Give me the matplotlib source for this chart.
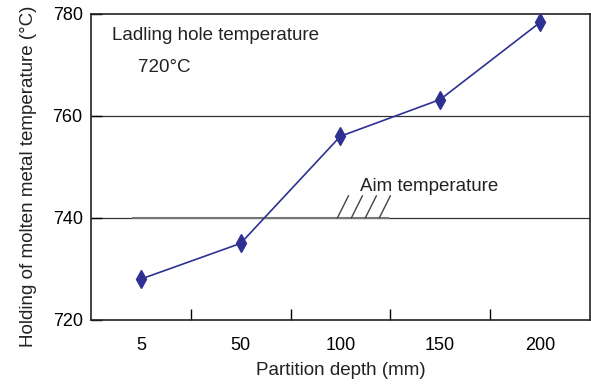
import numpy as np
import matplotlib.pyplot as plt

plt.rcParams['font.family'] = ['Liberation Sans', 'DejaVu Sans']

# dados
depths = ['5', '50', '100', '150', '200']
temps = [728.0, 735.0, 756.0, 763.2, 778.3]
aim_temp = 740
y_ticks = [720, 740, 760, 780]

fs = 13
fig = plt.figure(figsize=(5.91, 3.84), dpi=100)
ax = fig.add_axes([0.154, 0.167, 0.844, 0.797])

x = np.arange(len(depths))

# linhas de grade horizontais
for yv in y_ticks[1:-1]:
    ax.axhline(yv, color='#333333', lw=0.9, zorder=1)

# linha da temperatura alvo (cinza) com hachuras
ax.plot([-0.08, 2.48], [aim_temp, aim_temp], color='#777777', lw=1.5, zorder=2)
for i in range(4):
    x0 = 1.97 + 0.14 * i
    ax.plot([x0, x0 + 0.11], [aim_temp, aim_temp + 4.3], color='#444444', lw=1.0, zorder=2)
ax.text(2.2, aim_temp + 5.2, 'Aim temperature', fontsize=13.5, color='#222222')

ax.plot(x, temps, color='#2E3192', lw=1.2, marker='d', markersize=9,
        markerfacecolor='#2E3192', markeredgecolor='#2E3192', zorder=3)

ax.text(-0.29, 775.7, 'Ladling hole temperature', fontsize=13.5, va='center', color='#222222')
ax.text(-0.03, 769.4, '720\u00b0C', fontsize=13.5, va='center', color='#222222')

ax.set_xlim(-0.5, 4.5)
ax.set_ylim(720, 780)
ax.set_yticks(y_ticks)
ax.set_xticks(x)
ax.set_xticklabels(depths)
ax.set_xticks(x[:-1] + 0.5, minor=True)
ax.tick_params(axis='x', which='major', length=0, pad=12, labelsize=fs)
ax.tick_params(axis='x', which='minor', direction='in', length=8, width=1)
ax.tick_params(axis='y', direction='in', length=8, width=1, labelsize=fs, pad=6)

for s in ax.spines.values():
    s.set_color('#222222')
    s.set_linewidth(1.2)

ax.set_xlabel('Partition depth (mm)', fontsize=13.5, labelpad=6, color='#222222')
ax.set_ylabel('Holding of molten metal temperature (\u00b0C)', fontsize=13.5, labelpad=11, color='#222222')
ax.yaxis.label.set_y(0.47)

plt.savefig('out.png', dpi=100)
plt.close()
